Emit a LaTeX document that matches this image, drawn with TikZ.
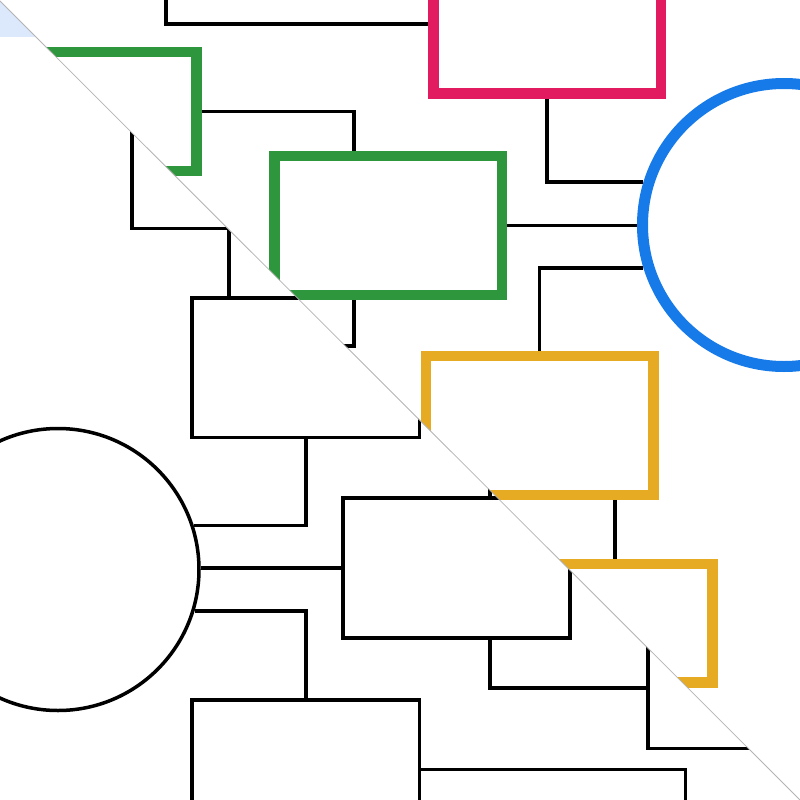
\documentclass[tikz,border=0pt]{standalone}
\usetikzlibrary{calc}
\definecolor{cpink}{RGB}{226,27,96}
\definecolor{cgreen}{RGB}{46,150,60}
\definecolor{cyellow}{RGB}{230,170,35}
\definecolor{cblue}{RGB}{22,122,232}
\definecolor{clight}{RGB}{220,232,252}
\definecolor{cdiag}{RGB}{180,180,180}
\begin{document}
\begin{tikzpicture}[x=1pt,y=-1pt,
  thinbox/.style={draw=black,line width=3.5pt,inner sep=0pt,minimum width=227.5pt,minimum height=139.5pt},
  colbox/.style={draw=#1,line width=10.5pt,inner sep=0pt,minimum width=227.5pt,minimum height=139pt},
  conn/.style={draw=black,line width=3.5pt}]
\useasboundingbox (0,0) rectangle (800,800);
\fill[white] (0,0) rectangle (800,800);
\clip (0,0) rectangle (800,800);
% named helper x positions
\coordinate (x229) at (229,0);
\coordinate (x354) at (354,0);
\coordinate (x490) at (490,0);
\coordinate (x615) at (615,0);
% ---------- upper-right diagram ----------
\begin{scope}
\clip (0,1) -- (800,800) -- (900,800) -- (900,-100) -- (-100,-100) -- (-100,1) -- cycle;
\node[colbox=cpink] (pink) at (547,24) {};
\node[colbox=cgreen,minimum height=119pt] (gsmall) at (82.5,111.5) {};
\node[colbox=cgreen] (gbig) at (388.25,225.5) {};
\node[colbox=cyellow] (yel) at (539.5,425.5) {};
\node[colbox=cyellow,minimum height=118.5pt] (ysmall) at (598.5,623.25) {};
\node[circle,draw=cblue,line width=11pt,inner sep=0pt,minimum size=283pt] (blue) at (784,225) {};
\coordinate (hD) at (166,-10);
\coordinate (hC) at (300,346);
\draw[conn] (hD) |- (pink.west);
\draw[conn] (gsmall.east) -| (gbig.north -| x354);
\draw[conn] (gbig.south -| x354) |- (hC);
\draw[conn] (gbig.east) -- (gbig.east -| blue.west);
\draw[conn] (pink.south) |- (blue.163);
\draw[conn] (blue.197) -| (yel.north);
\draw[conn] (yel.south -| x615) -- (ysmall.north -| x615);
\end{scope}
% ---------- lower-left diagram ----------
\begin{scope}
\clip (0,1) -- (800,800) -- (800,900) -- (-100,900) -- (-100,1) -- cycle;
\fill[clight] (-10,-10) rectangle (810,37);
\node[thinbox] (b1) at (305.75,367.5) {};
\node[thinbox,minimum width=227pt,minimum height=140pt] (b2) at (456.5,568) {};
\node[thinbox] (b3) at (305.75,769.5) {};
\node[circle,draw=black,line width=3.5pt,inner sep=0pt,minimum size=282pt] (lc) at (58,569.5) {};
\coordinate (hE) at (132,100);
\coordinate (k1) at (229,228.5);
\coordinate (hF) at (490,460);
\coordinate (k2) at (648,688);
\coordinate (hG) at (648,600);
\coordinate (hH) at (830,748.5);
\coordinate (hI) at (685.5,830);
\draw[conn] (hE) |- (k1) -- (b1.north -| k1);
\draw[conn] (b1.south) |- (lc.18.16);
\draw[conn] (lc.east |- b2.west) -- (b2.west);
\draw[conn] (lc.343.1) -| (b3.north);
\draw[conn] (b2.north -| x490) -- (hF);
\draw[conn] (b2.south -| x490) |- (k2);
\draw[conn] (hG) |- (hH);
\draw[conn] (b3.east) -| (hI);
\end{scope}
\draw[cdiag,line width=0.8pt] (0,1) -- (800,800);
\end{tikzpicture}
\end{document}
